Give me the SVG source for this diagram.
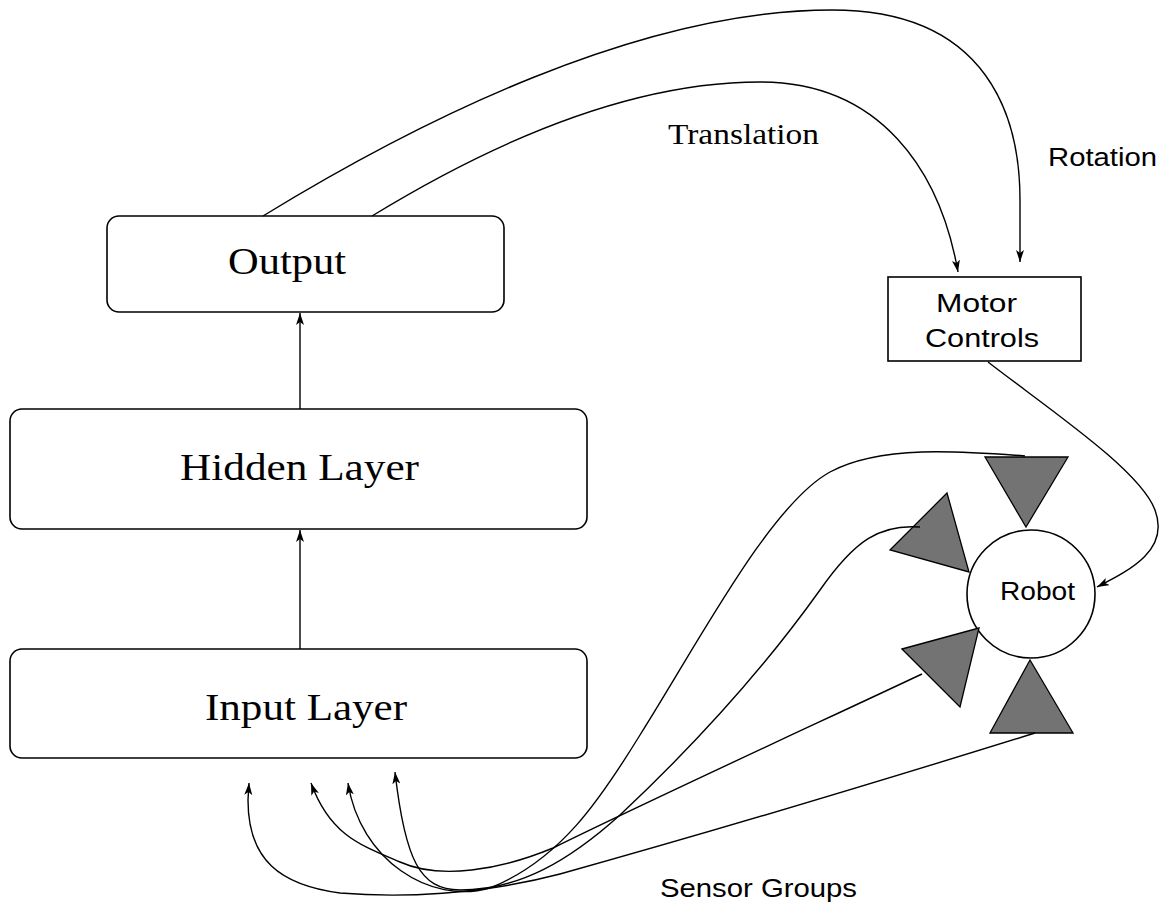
<svg xmlns="http://www.w3.org/2000/svg" width="1167" height="909" viewBox="0 0 1167 909">
<style>
.box{fill:#fff;stroke:#000;stroke-width:1.6}
.serif{font-family:"Liberation Serif","Times New Roman",serif;fill:#000}
.sans{font-family:"Liberation Sans",Arial,sans-serif;fill:#000}
.edge{fill:none;stroke:#000;stroke-width:1.4}
.tri{fill:#737373;stroke:#000;stroke-width:1.3;stroke-linejoin:miter}
</style>
<defs>
<marker id="ah" markerUnits="userSpaceOnUse" markerWidth="14" markerHeight="10" refX="12" refY="4" orient="auto">
<path d="M0,0 L12,4 L0,8 L3,4 z" fill="#000"/>
</marker>
</defs>
<rect width="1167" height="909" fill="#fff"/>

<g id="output">
<rect class="box" x="107" y="216" width="397" height="96" rx="12"/>
<text class="serif" x="228" y="274" font-size="38" textLength="118" lengthAdjust="spacingAndGlyphs">Output</text>
</g>
<g id="hidden">
<rect class="box" x="10" y="409" width="577" height="120" rx="12"/>
<text class="serif" x="180" y="480" font-size="38" textLength="239" lengthAdjust="spacingAndGlyphs">Hidden Layer</text>
</g>
<g id="input">
<rect class="box" x="10" y="649" width="577" height="109" rx="12"/>
<text class="serif" x="205" y="720" font-size="38" textLength="202" lengthAdjust="spacingAndGlyphs">Input Layer</text>
</g>
<g id="motor">
<rect class="box" x="888" y="277" width="193" height="84"/>
<text class="sans" x="936" y="312" font-size="26" textLength="81" lengthAdjust="spacingAndGlyphs">Motor</text>
<text class="sans" x="925" y="347" font-size="26" textLength="114" lengthAdjust="spacingAndGlyphs">Controls</text>
</g>
<g id="robot">
<circle class="box" cx="1031" cy="594" r="64"/>
<text class="sans" x="1000" y="600" font-size="26" textLength="75" lengthAdjust="spacingAndGlyphs">Robot</text>
</g>
<g id="sensors">
<polygon class="tri" points="985,457 1068,457 1026,527"/>
<polygon class="tri" points="947,493 890,550 969,572"/>
<polygon class="tri" points="902,649 979,628 960,707"/>
<polygon class="tri" points="1030,660 990,733 1073,733"/>
</g>
<g id="labels">
<text class="serif" x="668" y="144" font-size="30" textLength="151" lengthAdjust="spacingAndGlyphs">Translation</text>
<text class="sans" x="1048" y="166" font-size="26" textLength="109" lengthAdjust="spacingAndGlyphs">Rotation</text>
<text class="sans" x="660" y="897" font-size="26" textLength="197" lengthAdjust="spacingAndGlyphs">Sensor Groups</text>
</g>
<g id="connectors">
<path class="edge" d="M300,649 L300,530" marker-end="url(#ah)"/>
<path class="edge" d="M300,409 L300,313" marker-end="url(#ah)"/>
<path class="edge" d="M263,216 C420,120 640,10 832,10 C990,10 1020,120 1020,200 L1020,262" marker-end="url(#ah)"/>
<path class="edge" d="M372,216 C480,150 620,82 760,82 C880,82 940,170 958,272" marker-end="url(#ah)"/>
<path class="edge" d="M988,362 C1050,410 1140,470 1155,510 C1170,550 1130,570 1097,587" marker-end="url(#ah)"/>
<path class="edge" d="M1025,456 C960,451 880,445 830,472 C770,505 700,640 640,735 C600,800 560,860 490,888 C430,905 360,860 348,783" marker-end="url(#ah)"/>
<path class="edge" d="M920,527 C880,524 855,540 820,590 C770,660 700,740 620,815 C570,860 520,890 460,890 C420,890 405,860 395,772" marker-end="url(#ah)"/>
<path class="edge" d="M922,674 C820,722 650,800 553,848 C500,870 440,880 400,862 C360,845 330,835 311,783" marker-end="url(#ah)"/>
<path class="edge" d="M1035,733 C900,775 700,835 560,874 C480,895 400,898 340,893 C280,885 248,860 248,800 L249,783" marker-end="url(#ah)"/>
</g>
</svg>
